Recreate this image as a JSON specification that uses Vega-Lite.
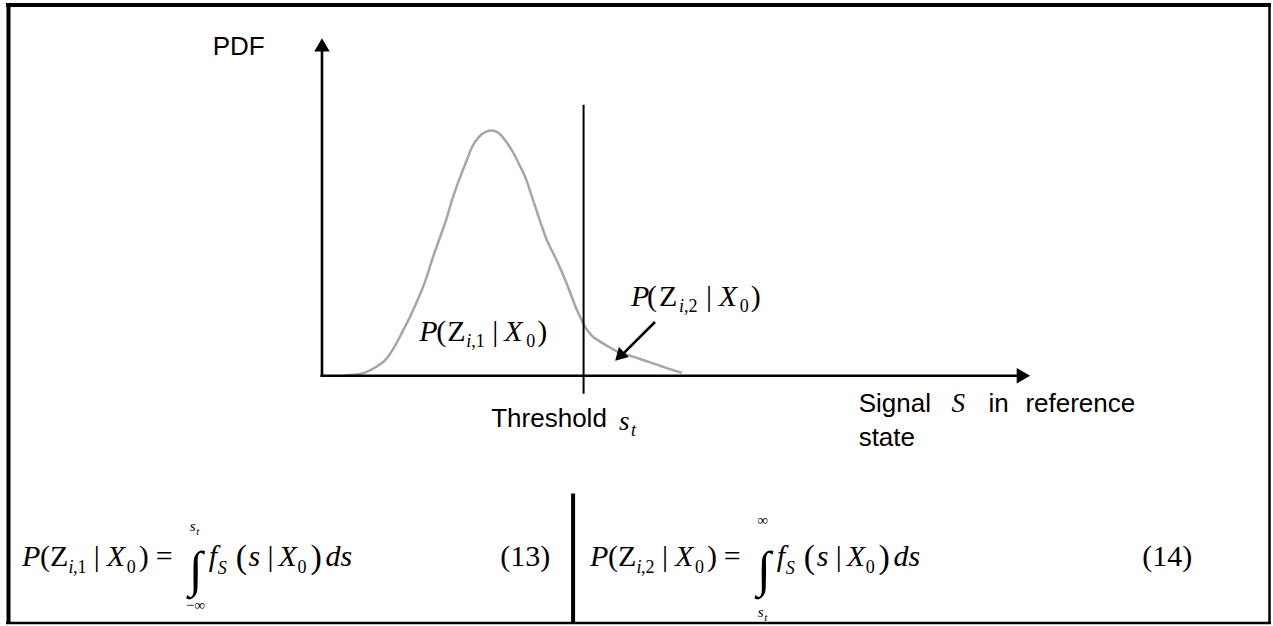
{
  "$schema": "https://vega.github.io/schema/vega-lite/v6.json",
  "width": 1273,
  "height": 626,
  "autosize": {"type": "fit", "contains": "padding"},
  "padding": 0,
  "background": "white",
  "config": {"view": {"stroke": null}},
  "datasets": {
    "frameThick": [
      {"x": 6, "y": 5, "x2": 1273, "y2": 5},
      {"x": 8.5, "y": 3, "x2": 8.5, "y2": 626},
      {"x": 574, "y": 495, "x2": 574, "y2": 626}
    ],
    "frameThin": [
      {"x": 1271.5, "y": 3, "x2": 1271.5, "y2": 626},
      {"x": 6, "y": 625, "x2": 1273, "y2": 625}
    ],
    "axes": [
      {"x": 322.5, "y": 378, "x2": 322.5, "y2": 48},
      {"x": 321, "y": 377, "x2": 1022, "y2": 377},
      {"x": 656, "y": 323, "x2": 624, "y2": 355}
    ],
    "threshold": [
      {"x": 584.5, "y": 105, "x2": 584.5, "y2": 395}
    ],
    "headUp": [{"x": 322.5, "y": 45}],
    "headRight": [{"x": 1025, "y": 377}],
    "headSmall": [{"x": 620.5, "y": 357.5}],
    "curve": [
      {"x": 345, "y": 376.5}, {"x": 355, "y": 376}, {"x": 366, "y": 373.5}, {"x": 377, "y": 368},
      {"x": 387, "y": 360}, {"x": 395, "y": 348}, {"x": 403, "y": 333}, {"x": 412, "y": 315},
      {"x": 420, "y": 297}, {"x": 427, "y": 279}, {"x": 433, "y": 260}, {"x": 440, "y": 240},
      {"x": 447, "y": 220}, {"x": 453, "y": 200}, {"x": 460, "y": 180}, {"x": 467, "y": 162},
      {"x": 473, "y": 147}, {"x": 480, "y": 137}, {"x": 487, "y": 132}, {"x": 492, "y": 131},
      {"x": 497, "y": 132}, {"x": 503, "y": 137}, {"x": 509, "y": 145}, {"x": 515, "y": 155},
      {"x": 521, "y": 167}, {"x": 527, "y": 180}, {"x": 532, "y": 195}, {"x": 537, "y": 210},
      {"x": 542, "y": 225}, {"x": 547, "y": 239}, {"x": 552, "y": 250}, {"x": 557, "y": 260},
      {"x": 562, "y": 271}, {"x": 567, "y": 283}, {"x": 572, "y": 296}, {"x": 577, "y": 309},
      {"x": 582, "y": 320}, {"x": 586, "y": 328}, {"x": 593, "y": 337}, {"x": 600, "y": 342},
      {"x": 608, "y": 347}, {"x": 617, "y": 352}, {"x": 633, "y": 357.5}, {"x": 650, "y": 363},
      {"x": 667, "y": 369}, {"x": 683, "y": 374}
    ],
    "sans": [
      {"x": 213, "y": 55, "t": "PDF"},
      {"x": 492, "y": 428, "t": "Threshold"},
      {"x": 860, "y": 413, "t": "Signal"},
      {"x": 990, "y": 413, "t": "in"},
      {"x": 1027, "y": 413, "t": "reference"},
      {"x": 860, "y": 447, "t": "state"}
    ],
    "midIt": [
      {"x": 953, "y": 413, "t": "S"},
      {"x": 620, "y": 431, "t": "s"}
    ],
    "serifIt": [
      {"x": 22, "y": 568, "t": "P"}, {"x": 107, "y": 568, "t": "X"}, {"x": 209, "y": 568, "t": "f"},
      {"x": 249, "y": 568, "t": "s"}, {"x": 279, "y": 568, "t": "X"}, {"x": 326, "y": 568, "t": "ds"},
      {"x": 591, "y": 568, "t": "P"}, {"x": 676, "y": 568, "t": "X"}, {"x": 778, "y": 568, "t": "f"},
      {"x": 818, "y": 568, "t": "s"}, {"x": 848, "y": 568, "t": "X"}, {"x": 895, "y": 568, "t": "ds"},
      {"x": 420, "y": 342, "t": "P"}, {"x": 505, "y": 342, "t": "X"},
      {"x": 632, "y": 307, "t": "P"}, {"x": 720, "y": 307, "t": "X"}
    ],
    "serifRm": [
      {"x": 40, "y": 568, "t": "("}, {"x": 50, "y": 568, "t": "Z"}, {"x": 94, "y": 568, "t": "|"},
      {"x": 139, "y": 568, "t": ")"}, {"x": 156, "y": 568, "t": "="}, {"x": 268, "y": 568, "t": "|"},
      {"x": 501, "y": 568, "t": "(13)"},
      {"x": 609, "y": 568, "t": "("}, {"x": 619, "y": 568, "t": "Z"}, {"x": 663, "y": 568, "t": "|"},
      {"x": 708, "y": 568, "t": ")"}, {"x": 725, "y": 568, "t": "="}, {"x": 837, "y": 568, "t": "|"},
      {"x": 1144, "y": 568, "t": "(14)"},
      {"x": 437, "y": 342, "t": "("}, {"x": 448, "y": 342, "t": "Z"}, {"x": 493, "y": 342, "t": "|"},
      {"x": 538, "y": 342, "t": ")"},
      {"x": 648, "y": 307, "t": "("}, {"x": 660, "y": 307, "t": "Z"}, {"x": 707, "y": 307, "t": "|"},
      {"x": 752, "y": 307, "t": ")"}
    ],
    "bigParen": [
      {"x": 236, "y": 570, "t": "("}, {"x": 311, "y": 570, "t": ")"},
      {"x": 805, "y": 570, "t": "("}, {"x": 880, "y": 570, "t": ")"}
    ],
    "subIt": [
      {"x": 68.5, "y": 575, "t": "i"}, {"x": 218, "y": 576, "t": "S"},
      {"x": 637.5, "y": 575, "t": "i"}, {"x": 787, "y": 576, "t": "S"},
      {"x": 467, "y": 348, "t": "i"}, {"x": 680, "y": 313, "t": "i"},
      {"x": 632, "y": 437, "t": "t"}
    ],
    "subRm": [
      {"x": 73, "y": 575, "t": ",1"}, {"x": 127, "y": 575, "t": "0"}, {"x": 298, "y": 575, "t": "0"},
      {"x": 642, "y": 575, "t": ",2"}, {"x": 696, "y": 575, "t": "0"}, {"x": 867, "y": 575, "t": "0"},
      {"x": 472, "y": 348, "t": ",1"}, {"x": 527, "y": 348, "t": "0"},
      {"x": 685, "y": 313, "t": ",2"}, {"x": 741, "y": 313, "t": "0"}
    ],
    "limitS": [
      {"x": 190, "y": 533, "t": "s"}, {"x": 759, "y": 619, "t": "s"}
    ],
    "limitT": [
      {"x": 196.5, "y": 537, "t": "t"}, {"x": 765.5, "y": 623, "t": "t"}
    ],
    "limitInf": [
      {"x": 196, "y": 612, "t": "−∞"}, {"x": 764, "y": 527, "t": "∞"}
    ],
    "integral": [
      {"x": 196, "y": 588, "t": "∫"}, {"x": 765, "y": 588, "t": "∫"}
    ]
  },
  "encoding": {
    "x": {"field": "x", "type": "quantitative", "scale": {"domain": [0, 1273], "nice": false, "zero": false}, "axis": null},
    "y": {"field": "y", "type": "quantitative", "scale": {"domain": [0, 626], "nice": false, "zero": false, "reverse": true}, "axis": null}
  },
  "layer": [
    {"data": {"name": "frameThick"}, "mark": {"type": "rule", "strokeWidth": 4, "color": "black"},
     "encoding": {"x2": {"field": "x2"}, "y2": {"field": "y2"}}},
    {"data": {"name": "frameThin"}, "mark": {"type": "rule", "strokeWidth": 2.5, "color": "black"},
     "encoding": {"x2": {"field": "x2"}, "y2": {"field": "y2"}}},
    {"data": {"name": "curve"}, "mark": {"type": "line", "color": "#a6a6a6", "strokeWidth": 2.5, "interpolate": "monotone"}},
    {"data": {"name": "axes"}, "mark": {"type": "rule", "strokeWidth": 2.6, "color": "black"},
     "encoding": {"x2": {"field": "x2"}, "y2": {"field": "y2"}}},
    {"data": {"name": "threshold"}, "mark": {"type": "rule", "strokeWidth": 2, "color": "black"},
     "encoding": {"x2": {"field": "x2"}, "y2": {"field": "y2"}}},
    {"data": {"name": "headUp"}, "mark": {"type": "point", "shape": "triangle-up", "filled": true, "size": 240, "color": "black", "opacity": 1}},
    {"data": {"name": "headRight"}, "mark": {"type": "point", "shape": "triangle-right", "filled": true, "size": 240, "color": "black", "opacity": 1}},
    {"data": {"name": "headSmall"}, "mark": {"type": "point", "shape": "triangle-up", "angle": 225, "filled": true, "size": 200, "color": "black", "opacity": 1}},
    {"data": {"name": "sans"}, "mark": {"type": "text", "font": "Liberation Sans", "fontSize": 26, "align": "left", "baseline": "alphabetic", "color": "black"},
     "encoding": {"text": {"field": "t"}}},
    {"data": {"name": "midIt"}, "mark": {"type": "text", "font": "Liberation Serif", "fontStyle": "italic", "fontSize": 27, "align": "left", "baseline": "alphabetic", "color": "black"},
     "encoding": {"text": {"field": "t"}}},
    {"data": {"name": "serifIt"}, "mark": {"type": "text", "font": "Liberation Serif", "fontStyle": "italic", "fontSize": 30, "align": "left", "baseline": "alphabetic", "color": "black"},
     "encoding": {"text": {"field": "t"}}},
    {"data": {"name": "serifRm"}, "mark": {"type": "text", "font": "Liberation Serif", "fontSize": 30, "align": "left", "baseline": "alphabetic", "color": "black"},
     "encoding": {"text": {"field": "t"}}},
    {"data": {"name": "bigParen"}, "mark": {"type": "text", "font": "Liberation Serif", "fontSize": 34, "align": "left", "baseline": "alphabetic", "color": "black"},
     "encoding": {"text": {"field": "t"}}},
    {"data": {"name": "subIt"}, "mark": {"type": "text", "font": "Liberation Serif", "fontStyle": "italic", "fontSize": 18, "align": "left", "baseline": "alphabetic", "color": "black"},
     "encoding": {"text": {"field": "t"}}},
    {"data": {"name": "subRm"}, "mark": {"type": "text", "font": "Liberation Serif", "fontSize": 18, "align": "left", "baseline": "alphabetic", "color": "black"},
     "encoding": {"text": {"field": "t"}}},
    {"data": {"name": "limitS"}, "mark": {"type": "text", "font": "Liberation Serif", "fontStyle": "italic", "fontSize": 15, "align": "left", "baseline": "alphabetic", "color": "black"},
     "encoding": {"text": {"field": "t"}}},
    {"data": {"name": "limitT"}, "mark": {"type": "text", "font": "Liberation Serif", "fontStyle": "italic", "fontSize": 11, "align": "left", "baseline": "alphabetic", "color": "black"},
     "encoding": {"text": {"field": "t"}}},
    {"data": {"name": "limitInf"}, "mark": {"type": "text", "font": "Liberation Serif", "fontSize": 15, "align": "center", "baseline": "alphabetic", "color": "black"},
     "encoding": {"text": {"field": "t"}}},
    {"data": {"name": "integral"}, "mark": {"type": "text", "font": "Liberation Serif", "fontSize": 50, "align": "center", "baseline": "alphabetic", "color": "black"},
     "encoding": {"text": {"field": "t"}}}
  ]
}
